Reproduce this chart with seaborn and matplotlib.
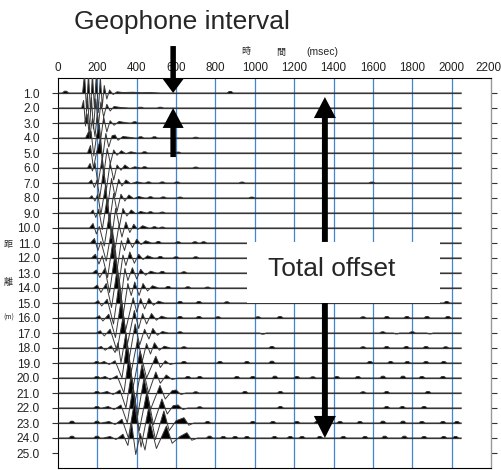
import matplotlib
matplotlib.use("Agg")
import matplotlib.pyplot as plt
from matplotlib.patches import FancyArrow, Rectangle
from matplotlib.transforms import ScaledTranslation
import pandas as pd
import seaborn as sns

# distance of each geophone (m) and axis labels
offsets = [1.0, 2.0, 3.0, 4.0, 5.0, 6.0, 7.0, 8.0, 9.0, 10.0, 11.0, 12.0,
           13.0, 14.0, 15.0, 16.0, 17.0, 18.0, 19.0, 20.0, 21.0, 22.0, 23.0, 24.0]
dist_ticks = [1.0, 2.0, 3.0, 4.0, 5.0, 6.0, 7.0, 8.0, 9.0, 10.0, 11.0, 12.0, 13.0,
              14.0, 15.0, 16.0, 17.0, 18.0, 19.0, 20.0, 21.0, 22.0, 23.0, 24.0, 25.0]
dist_labels = ["1.0", "2.0", "3.0", "4.0", "5.0", "6.0", "7.0", "8.0", "9.0", "10.0",
               "11.0", "12.0", "13.0", "14.0", "15.0", "16.0", "17.0", "18.0", "19.0",
               "20.0", "21.0", "22.0", "23.0", "24.0", "25.0"]
time_ticks = [0, 200, 400, 600, 800, 1000, 1200, 1400, 1600, 1800, 2000, 2200]
grid_times = [200, 400, 600, 800, 1000, 1200, 1400, 1600, 1800, 2000]
record_end = 2050

# wiggle extrema per trace: (time msec, amplitude in trace spacings, + = up)
tr01 = [(0, 0), (125, 0), (135, 1.3), (145, -1.2), (155, 1.3), (165, -1.3), (175, 1.3), (185, -1.0),
        (195, 1.3), (205, -1.3), (215, 1.1), (225, -0.9), (235, 0.5), (248, -0.4), (262, 0.2),
        (280, -0.1), (300, 0.08), (330, 0.03), (380, 0.05), (420, 0.02), (470, 0.03), (520, 0), (2050, 0)]
tr02 = [(0, 0), (120, 0), (130, 0.5), (140, -1.2), (150, 0.9), (160, -1.5), (170, 0.7), (180, -1.4),
        (192, 0.6), (205, -1.2), (218, 0.4), (232, -0.6), (248, 0.25), (265, -0.2), (285, 0.1),
        (320, 0.03), (360, 0), (2050, 0)]
tr03 = [(0, 0), (135, 0), (148, 0.6), (160, -1.0), (175, 0.3), (188, -0.9), (200, 0.7), (215, -1.3),
        (232, 0.4), (248, -0.6), (265, 0.15), (285, -0.15), (310, 0.1), (340, 0.03), (360, 0), (2050, 0)]
tr04 = [(0, 0), (140, 0), (155, 0.4), (168, 0.45), (182, -1.2), (196, 0.15), (210, 0.9), (226, -1.4),
        (243, 0.3), (258, -0.6), (275, 0.15), (290, 0.2), (305, -0.15), (330, 0.1), (360, 0.05), (390, 0), (2050, 0)]
tr05 = [(0, 0), (150, 0), (165, 0.5), (180, -1.0), (197, 0.1), (215, 0.9), (232, -1.5), (250, 0.3),
        (266, -0.7), (283, 0.2), (300, -0.15), (322, 0.15), (345, -0.05), (370, 0.08), (400, 0), (2050, 0)]
tr06 = [(0, 0), (150, 0), (163, 0.3), (175, -0.2), (188, 0.35), (203, -1.1), (225, 0.7), (245, -1.5),
        (265, 0.35), (283, -0.8), (300, 0.2), (320, -0.15), (340, 0.2), (365, -0.05), (390, 0.08), (420, 0), (2050, 0)]
tr07 = [(0, 0), (155, 0), (170, 0.2), (185, -0.3), (198, 0.2), (212, -1.0), (232, 0.9), (252, -1.6),
        (272, 0.3), (290, -0.9), (308, 0.25), (325, -0.2), (345, 0.2), (370, -0.05), (400, 0.08), (430, 0), (2050, 0)]
tr08 = [(0, 0), (160, 0), (172, 0.15), (188, -0.2), (202, 0.25), (218, -1.1), (242, 0.85), (262, -1.6),
        (283, 0.3), (300, -0.9), (320, 0.25), (340, -0.2), (360, 0.2), (385, -0.05), (410, 0.1), (440, 0), (2050, 0)]
tr09 = [(0, 0), (165, 0), (178, 0.2), (192, -0.3), (207, 0.25), (225, -1.1), (250, 1.0), (272, -1.7),
        (293, 0.3), (312, -0.9), (330, 0.3), (350, -0.2), (372, 0.2), (395, -0.05), (420, 0.1), (450, 0), (2050, 0)]
tr10 = [(0, 0), (160, 0), (178, 0.3), (195, -0.4), (210, 0.1), (235, -1.2), (262, 1.0), (285, -1.8),
        (310, 0.2), (325, -0.6), (345, 0.4), (365, -0.3), (385, 0.25), (405, -0.1), (430, 0.15), (460, 0), (2050, 0)]
tr11 = [(0, 0), (165, 0), (185, 0.3), (203, -0.5), (218, 0.1), (245, -1.2), (275, 1.1), (300, -1.8),
        (322, 0.15), (338, -0.5), (355, 0.35), (378, -0.3), (400, 0.25), (422, -0.1), (445, 0.15), (475, 0), (2050, 0)]
tr12 = [(0, 0), (170, 0), (190, 0.25), (208, -0.4), (225, 0.15), (252, -1.3), (282, 1.4), (308, -1.9),
        (330, 0.2), (345, -0.5), (365, 0.4), (388, -0.35), (410, 0.25), (432, -0.1), (455, 0.15), (485, 0), (2050, 0)]
tr13 = [(0, 0), (175, 0), (195, 0.2), (212, -0.3), (238, 0.3), (262, -1.3), (292, 1.5), (318, -2.0),
        (340, 0.3), (355, -0.5), (378, 0.35), (400, -0.4), (420, 0.25), (445, -0.15), (470, 0.12), (500, 0), (2050, 0)]
tr14 = [(0, 0), (180, 0), (200, 0.2), (218, -0.3), (245, 0.3), (272, -1.3), (302, 1.4), (330, -1.9),
        (355, 0.3), (372, -0.5), (390, 0.4), (412, -0.5), (432, 0.3), (455, -0.2), (480, 0.15), (510, 0), (2050, 0)]
tr15 = [(0, 0), (185, 0), (205, 0.15), (222, -0.2), (250, 0.25), (282, -1.4), (312, 1.5), (342, -1.9),
        (382, 0.35), (400, -0.6), (420, 0.3), (440, -0.4), (462, 0.3), (485, -0.15), (510, 0.12), (540, 0), (2050, 0)]
tr16 = [(0, 0), (190, 0), (210, 0.15), (228, -0.2), (258, 0.25), (292, -1.3), (322, 1.3), (352, -1.8),
        (388, 0.5), (410, -0.7), (430, 0.3), (450, -0.4), (475, 0.3), (500, -0.15), (525, 0.12), (555, 0), (2050, 0)]
tr17 = [(0, 0), (195, 0), (215, 0.15), (235, -0.2), (265, 0.25), (300, -1.2), (332, 1.2), (362, -1.7),
        (392, 0.6), (415, -0.8), (440, 0.25), (462, -0.4), (482, 0.3), (505, -0.15), (530, 0.1), (560, 0), (2050, 0)]
tr18 = [(0, 0), (200, 0), (220, 0.1), (240, -0.15), (270, 0.15), (290, -0.3), (305, 0.35), (320, -1.0),
        (345, 1.0), (372, -1.6), (405, 0.6), (428, -0.9), (450, 0.3), (470, -0.4), (490, 0.35), (515, -0.15),
        (540, 0.12), (570, 0), (2050, 0)]
tr19 = [(0, 0), (210, 0), (235, 0.1), (260, -0.1), (290, 0.15), (325, -1.0), (350, 1.3), (382, -1.6),
        (417, 0.8), (450, -1.0), (497, 0.45), (520, -0.3), (545, 0.15), (570, -0.1), (600, 0), (2050, 0)]
tr20 = [(0, 0), (215, 0), (240, 0.1), (265, -0.1), (300, 0.15), (335, -1.0), (360, 1.4), (392, -1.6),
        (427, 0.9), (460, -1.0), (497, 0.4), (520, -0.35), (550, 0.2), (580, -0.1), (610, 0), (2050, 0)]
tr21 = [(0, 0), (220, 0), (250, 0.1), (280, -0.1), (315, 0.2), (345, -1.0), (372, 1.2), (405, -1.5),
        (437, 1.0), (470, -1.1), (518, 0.5), (545, -0.4), (580, 0.15), (600, 0.2), (625, -0.1), (650, 0), (2050, 0)]
tr22 = [(0, 0), (225, 0), (255, 0.1), (285, -0.1), (320, 0.2), (352, -1.0), (380, 1.3), (413, -1.5),
        (452, 1.1), (485, -1.1), (528, 0.6), (555, -0.4), (585, 0.15), (610, 0.2), (635, -0.1), (660, 0), (2050, 0)]
tr23 = [(0, 0), (220, 0), (260, 0.1), (290, -0.1), (325, 0.25), (358, -1.0), (388, 1.4), (422, -1.6),
        (462, 1.1), (495, -1.1), (538, 0.8), (565, -0.5), (600, 0.15), (640, 0.35), (665, -0.15), (690, 0), (2050, 0)]
tr24 = [(0, 0), (230, 0), (265, 0.1), (295, -0.1), (330, 0.25), (355, -0.5), (374, 1.0), (395, -1.1),
        (418, 0.3), (442, -0.8), (467, 1.1), (500, -0.7), (551, 0.8), (580, -0.35), (620, 0.1), (655, 0.35),
        (680, -0.15), (710, 0), (2050, 0)]

# small late noise blips per trace: (time msec, amplitude)
b01 = [(38, 0.12), (875, 0.1)]
b02 = [(420, 0.05), (520, 0.05)]
b03 = [(390, 0.08), (600, 0.06)]
b04 = [(420, 0.08), (490, 0.08), (700, 0.05)]
b05 = [(440, 0.08), (610, 0.06)]
b06 = [(440, 0.08), (700, 0.06)]
b07 = [(460, 0.07), (530, 0.07), (605, 0.07), (935, 0.06), (1595, 0.06)]
b08 = [(470, 0.08), (535, 0.07), (620, 0.06), (985, 0.06)]
b09 = [(470, 0.08), (530, 0.06)]
b10 = [(490, 0.08), (530, 0.06)]
b11 = [(510, 0.1), (610, 0.08), (696, 0.08), (740, 0.08)]
b12 = [(520, 0.1), (600, 0.08), (700, 0.08)]
b13 = [(530, 0.1), (640, 0.08)]
b14 = [(560, 0.1), (660, 0.08), (760, 0.06)]
b15 = [(620, 0.1), (716, 0.1), (858, 0.08), (1975, 0.1)]
b16 = [(620, 0.1), (716, 0.1), (813, 0.08), (1016, 0.08), (1128, 0.1), (1550, 0.08), (1671, 0.1),
       (1773, 0.1), (1875, 0.1), (1981, 0.1)]
b17 = [(620, 0.08), (1041, -0.08), (1650, 0.08), (1720, -0.06), (1800, 0.08), (1890, -0.06)]
b18 = [(640, 0.08), (1087, 0.1), (1550, 0.08), (1670, 0.1), (1770, 0.1), (1870, 0.1), (1970, 0.08)]
b19 = [(198, 0.1), (640, 0.1), (823, 0.1), (960, 0.1), (1087, 0.12), (1585, 0.1), (1690, 0.1),
       (1775, 0.1), (1870, 0.1), (1960, 0.1)]
b20 = [(198, 0.1), (660, 0.1), (720, 0.1), (909, 0.1), (990, 0.1), (1102, 0.12), (1214, 0.1), (1295, 0.08),
       (1417, 0.1), (1524, 0.1), (1651, 0.12), (1753, 0.12), (1849, 0.1), (1956, 0.1)]
b21 = [(198, 0.1), (700, 0.08), (950, 0.1), (1130, 0.1), (1550, 0.08), (1670, 0.1), (1880, 0.1)]
b22 = [(198, 0.1), (720, 0.08), (1130, 0.1), (1670, 0.1), (1750, 0.1), (1860, 0.1)]
b23 = [(71, 0.12), (198, 0.12), (760, 0.1), (990, 0.1), (1092, 0.1), (1214, 0.1), (1316, 0.1), (1433, 0.1),
       (1534, 0.1), (1651, 0.12), (1753, 0.12), (1849, 0.1), (1956, 0.1), (2027, 0.1)]
b24 = [(71, 0.12), (198, 0.12), (770, 0.12), (840, 0.1), (900, 0.1), (960, 0.1), (1100, 0.1), (1180, 0.1),
       (1240, 0.1), (1330, 0.1), (1450, 0.1), (1560, 0.1), (1660, 0.12), (1760, 0.12), (1860, 0.1),
       (1960, 0.1), (2020, 0.1)]

traces = [tr01, tr02, tr03, tr04, tr05, tr06, tr07, tr08, tr09, tr10, tr11, tr12,
          tr13, tr14, tr15, tr16, tr17, tr18, tr19, tr20, tr21, tr22, tr23, tr24]
blips = [b01, b02, b03, b04, b05, b06, b07, b08, b09, b10, b11, b12,
         b13, b14, b15, b16, b17, b18, b19, b20, b21, b22, b23, b24]

sns.set_theme(style="white")
plt.rcParams["font.family"] = ["Liberation Sans", "DejaVu Sans"]

fig = plt.figure(figsize=(5.02, 4.70), dpi=100)
ax = fig.add_axes([58 / 502, 1 - 468 / 470, (491 - 58) / 502, (468 - 78) / 470])

half = 16  # half width of a noise blip in msec
rows = []
for off, tr, bl in zip(offsets, traces, blips):
    pts = list(tr)
    for t, a in bl:
        pts += [(t - half, 0.0), (t - half / 3, a), (t + half / 3, a), (t + half, 0.0)]
    pts.sort()
    for t, a in pts:
        rows.append((off, t, off - a))
df = pd.DataFrame(rows, columns=["offset", "time", "y"])

for t in grid_times:
    ax.axvline(t, color="#3f86d4", lw=0.9, zorder=1)
ax.hlines(offsets, 0, record_end, color="#333333", lw=0.9, zorder=2)

for off, g in df.groupby("offset"):
    ax.fill_between(g["time"], off, g["y"], where=g["y"] < off, interpolate=True,
                    color="black", lw=0, zorder=3)
sns.lineplot(data=df, x="time", y="y", units="offset", estimator=None, sort=False,
             color="#3a3a3a", lw=0.7, legend=False, ax=ax, zorder=4)

ax.set_xlim(0, 2200)
ax.set_ylim(26, 0)
ax.set_xlabel("")
ax.set_ylabel("")
ax.xaxis.tick_top()
ax.set_xticks(time_ticks)
ax.set_xticklabels([str(t) for t in time_ticks], fontsize=8.4, color="#222222")
ax.set_yticks(dist_ticks)
ax.set_yticklabels(dist_labels, fontsize=8.6, color="#222222")
ax.tick_params(axis="x", length=0, pad=3)
ax.tick_params(axis="y", left=True, right=True, length=4, width=0.8, color="#333333", pad=9)
for side in ["left", "top", "bottom"]:
    ax.spines[side].set_color("black")
    ax.spines[side].set_linewidth(0.8)
ax.spines["right"].set_color("#999999")
ax.spines["right"].set_linewidth(1.0)

# keep the last time label inside the picture
last = ax.get_xticklabels()[-1]
last.set_transform(last.get_transform() + ScaledTranslation(-0.03, 0, fig.dpi_scale_trans))

# axis captions (Japanese)
jp = ["Noto Sans CJK JP", "DejaVu Sans"]
fig.text(246 / 502, 1 - 52 / 470, "時", fontsize=6.5, family=jp, ha="center", va="center")
fig.text(281 / 502, 1 - 52 / 470, "間", fontsize=6.5, family=jp, ha="center", va="center")
fig.text(322 / 502, 1 - 52 / 470, "(msec)", fontsize=7.5, ha="center", va="center")
fig.text(8 / 502, 1 - 244 / 470, "距", fontsize=6.5, family=jp, ha="center", va="center")
fig.text(8 / 502, 1 - 283 / 470, "離", fontsize=6.5, family=jp, ha="center", va="center")
fig.text(9 / 502, 1 - 318 / 470, "(m)", fontsize=5, family=jp, ha="center", va="center")

# annotations
fig.text(182 / 502, 1 - 29.5 / 470, "Geophone interval", fontsize=19,
         family=["Liberation Sans", "DejaVu Sans"], ha="center", va="baseline")

def arrow(x, y0, y1, head_len, head_w, shaft_w):
    a = FancyArrow(x, y0, 0, y1 - y0, width=shaft_w, head_width=head_w, head_length=head_len,
                   length_includes_head=True, color="black", lw=0, clip_on=False, zorder=7)
    ax.add_patch(a)

arrow(585, -2.13, 1.0, 0.95, 107, 28)
arrow(585, 5.27, 2.0, 1.33, 107, 28)
arrow(1356, 10.93, 1.27, 1.4, 112, 30)
arrow(1356, 15.0, 24.0, 1.47, 112, 30)

ax.add_patch(Rectangle((960, 10.93), 980, 4.07, facecolor="white", edgecolor="none", zorder=6))
ax.text(1392, 13.2, "Total offset", fontsize=19, family=["Liberation Sans", "DejaVu Sans"],
        ha="center", va="baseline", zorder=8)

fig.savefig("out.png", dpi=100)
